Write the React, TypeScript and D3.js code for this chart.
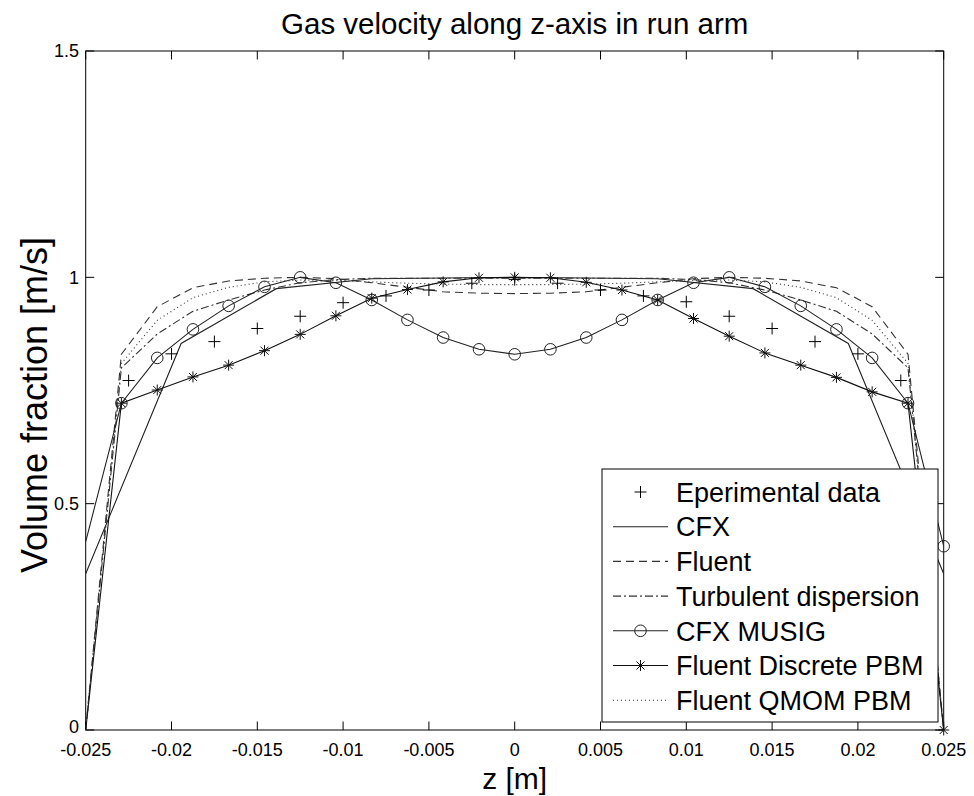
import React from "react";
import * as d3 from "d3";

// ---- data ----
const zGrid = [
  -0.025, -0.02292, -0.02083, -0.01875, -0.01667, -0.01458, -0.0125, -0.01042, -0.00833,
  -0.00625, -0.00417, -0.00208, 0, 0.00208, 0.00417, 0.00625, 0.00833, 0.01042, 0.0125,
  0.01458, 0.01667, 0.01875, 0.02083, 0.02292, 0.025,
];
const zExp = [
  -0.0225, -0.02, -0.0175, -0.015, -0.0125, -0.01, -0.0075, -0.005, -0.0025, 0, 0.0025, 0.005,
  0.0075, 0.01, 0.0125, 0.015, 0.0175, 0.02, 0.0225,
];
const expData = [
  0.772, 0.831, 0.858, 0.887, 0.914, 0.944, 0.959, 0.972, 0.987, 0.995, 0.987, 0.972, 0.959,
  0.946, 0.914, 0.887, 0.858, 0.831, 0.772,
];
const zCfx = [-0.025, -0.01944, -0.01389, -0.00833, -0.00278, 0.00278, 0.00833, 0.01389, 0.01944, 0.025];
const cfx = [0.345, 0.854, 0.975, 0.997, 0.999, 0.999, 0.997, 0.975, 0.854, 0.345];
const fluent = [
  0, 0.83, 0.935, 0.977, 0.992, 0.998, 1.0, 0.997, 0.988, 0.978, 0.968, 0.965, 0.964, 0.965,
  0.968, 0.978, 0.988, 0.997, 1.0, 0.998, 0.992, 0.977, 0.935, 0.83, 0,
];
const turbulent = [
  0, 0.8, 0.875, 0.925, 0.95, 0.972, 0.988, 0.995, 0.998, 0.998, 0.998, 0.998, 0.998, 0.998,
  0.998, 0.998, 0.998, 0.995, 0.988, 0.972, 0.95, 0.925, 0.875, 0.8, 0,
];
const musig = [
  0.416, 0.722, 0.822, 0.885, 0.937, 0.979, 1.0, 0.988, 0.95, 0.906, 0.867, 0.841, 0.83, 0.841,
  0.867, 0.906, 0.95, 0.988, 1.0, 0.979, 0.937, 0.885, 0.822, 0.722, 0.406,
];
const discrete = [
  0, 0.722, 0.751, 0.78, 0.806, 0.838, 0.874, 0.915, 0.954, 0.973, 0.99, 0.999, 1.0, 0.999,
  0.989, 0.972, 0.95, 0.909, 0.87, 0.833, 0.806, 0.779, 0.747, 0.722, 0,
];
const qmom = [
  0, 0.81, 0.905, 0.955, 0.978, 0.99, 0.994, 0.993, 0.99, 0.987, 0.985, 0.984, 0.984, 0.984,
  0.985, 0.987, 0.99, 0.993, 0.994, 0.99, 0.978, 0.955, 0.905, 0.81, 0,
];
const xTicks = [-0.025, -0.02, -0.015, -0.01, -0.005, 0, 0.005, 0.01, 0.015, 0.02, 0.025];
const xTickLabels = ["-0.025", "-0.02", "-0.015", "-0.01", "-0.005", "0", "0.005", "0.01", "0.015", "0.02", "0.025"];
const yTicks = [0, 0.5, 1, 1.5];
const yTickLabels = ["0", "0.5", "1", "1.5"];
const legendLabels = [
  "Eperimental data",
  "CFX",
  "Fluent",
  "Turbulent dispersion",
  "CFX MUSIG",
  "Fluent Discrete PBM",
  "Fluent QMOM PBM",
];

const W = 974;
const H = 796;
const L = 85.7, R = 943.7, T = 51, B = 730;
const FONT = "'Liberation Sans', Arial, Helvetica, sans-serif";

type Marker = "none" | "plus" | "circle" | "star";

function MarkerGlyph({ type, x, y }: { type: Marker; x: number; y: number }) {
  if (type === "plus")
    return (
      <g stroke="#000" strokeWidth={1} fill="none">
        <line x1={x - 6} x2={x + 6} y1={y} y2={y} />
        <line x1={x} x2={x} y1={y - 6} y2={y + 6} />
      </g>
    );
  if (type === "circle") return <circle cx={x} cy={y} r={5.8} fill="none" stroke="#222" strokeWidth={1} />;
  if (type === "star")
    return (
      <g stroke="#111" strokeWidth={1} fill="none">
        <line x1={x - 5.5} x2={x + 5.5} y1={y} y2={y} />
        <line x1={x} x2={x} y1={y - 5.5} y2={y + 5.5} />
        <line x1={x - 4} x2={x + 4} y1={y - 4} y2={y + 4} />
        <line x1={x - 4} x2={x + 4} y1={y + 4} y2={y - 4} />
      </g>
    );
  return null;
}

export default function App() {
  const x = d3.scaleLinear().domain([-0.025, 0.025]).range([L, R]);
  const y = d3.scaleLinear().domain([0, 1.5]).range([B, T]);
  const line = d3.line<[number, number]>().x((d) => x(d[0])).y((d) => y(d[1]));

  const series: { label: string; z: number[]; v: number[]; dash: string; marker: Marker; color: string; lineOn: boolean }[] = [
    { label: legendLabels[0], z: zExp, v: expData, dash: "", marker: "plus", color: "#000", lineOn: false },
    { label: legendLabels[1], z: zCfx, v: cfx, dash: "", marker: "none", color: "#222", lineOn: true },
    { label: legendLabels[2], z: zGrid, v: fluent, dash: "8,5", marker: "none", color: "#333", lineOn: true },
    { label: legendLabels[3], z: zGrid, v: turbulent, dash: "8,3,2,3", marker: "none", color: "#333", lineOn: true },
    { label: legendLabels[4], z: zGrid, v: musig, dash: "", marker: "circle", color: "#222", lineOn: true },
    { label: legendLabels[5], z: zGrid, v: discrete, dash: "", marker: "star", color: "#111", lineOn: true },
    { label: legendLabels[6], z: zGrid, v: qmom, dash: "1,3", marker: "none", color: "#333", lineOn: true },
  ];

  const legX = 602, legY = 469, legW = 336, legH = 253;
  const rowY0 = 492, rowStep = 34.7;

  return (
    <svg width={W} height={H} style={{ position: "absolute", left: 0, top: 0, background: "#fff" }} fontFamily={FONT}>
      <defs>
        <clipPath id="plotclip">
          <rect x={L} y={T} width={R - L} height={B - T} />
        </clipPath>
      </defs>
      <rect x={0} y={0} width={W} height={H} fill="#fff" />
      {/* axes box */}
      <rect x={L} y={T} width={R - L} height={B - T} fill="#fff" stroke="#000" strokeWidth={1} />
      {xTicks.map((t, i) => (
        <g key={"xt" + i}>
          <line x1={x(t)} x2={x(t)} y1={B} y2={B - 8.5} stroke="#000" />
          <line x1={x(t)} x2={x(t)} y1={T} y2={T + 8.5} stroke="#000" />
          <text x={x(t)} y={755.5} fontSize={18} textAnchor="middle" fill="#000">
            {xTickLabels[i]}
          </text>
        </g>
      ))}
      {yTicks.map((t, i) => (
        <g key={"yt" + i}>
          <line x1={L} x2={L + 8.5} y1={y(t)} y2={y(t)} stroke="#000" />
          <line x1={R} x2={R - 8.5} y1={y(t)} y2={y(t)} stroke="#000" />
          <text x={79} y={y(t) - (t === 0 ? 3 : 0)} dy="0.35em" fontSize={18} textAnchor="end" fill="#000">
            {yTickLabels[i]}
          </text>
        </g>
      ))}
      {/* series lines */}
      <g clipPath="url(#plotclip)">
        {series.map((s, i) =>
          s.lineOn ? (
            <path
              key={"l" + i}
              d={line(s.z.map((z, j) => [z, s.v[j]] as [number, number])) || ""}
              fill="none"
              stroke={s.color}
              strokeWidth={1.1}
              strokeDasharray={s.dash || undefined}
            />
          ) : null
        )}
      </g>
      {/* markers (points strictly inside the left edge) */}
      {series.map((s, i) =>
        s.marker !== "none"
          ? s.z.map((z, j) =>
              z > -0.025 ? <MarkerGlyph key={"m" + i + "_" + j} type={s.marker} x={x(z)} y={y(s.v[j])} /> : null
            )
          : null
      )}
      {/* title and labels */}
      <text x={(L + R) / 2} y={34} fontSize={29.5} textAnchor="middle" fill="#000">
        Gas velocity along z-axis in run arm
      </text>
      <text x={(L + R) / 2} y={789} fontSize={30} textAnchor="middle" fill="#000">
        z [m]
      </text>
      <text transform={`translate(47,405) rotate(-90)`} fontSize={36} textAnchor="middle" fill="#000">
        Volume fraction [m/s]
      </text>
      {/* legend */}
      <rect x={legX} y={legY} width={legW} height={legH} fill="#fff" stroke="#000" strokeWidth={1} />
      {series.map((s, i) => {
        const ry = rowY0 + i * rowStep;
        return (
          <g key={"lg" + i}>
            {s.lineOn && (
              <line
                x1={613}
                x2={668}
                y1={ry}
                y2={ry}
                stroke={s.color}
                strokeWidth={1.1}
                strokeDasharray={s.dash || undefined}
              />
            )}
            <MarkerGlyph type={s.marker} x={640.5} y={ry} />
            <text x={676} y={ry} dy="0.36em" fontSize={27} fill="#000">
              {s.label}
            </text>
          </g>
        );
      })}
    </svg>
  );
}
